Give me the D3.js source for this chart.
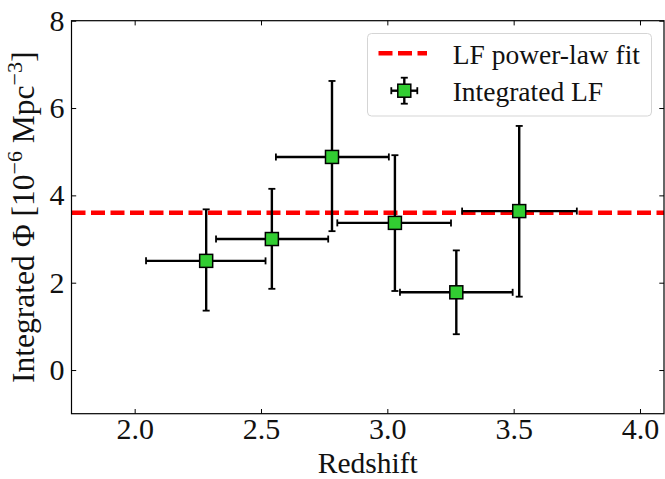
<!DOCTYPE html>
<html>
<head>
<meta charset="utf-8">
<script src="https://cdn.jsdelivr.net/npm/d3@7"></script>
<style>
  body { margin: 0; background: #fff; }
  svg text { font-family: "Liberation Serif", "DejaVu Serif", serif; fill: #111; }
</style>
</head>
<body>
<svg width="665" height="479"></svg>
<script>
// data
const redshift = [2.283, 2.543, 2.781, 3.030, 3.273, 3.522];
const xLow = [2.045, 2.322, 2.559, 2.802, 3.050, 3.296];
const xHigh = [2.518, 2.766, 3.006, 3.252, 3.496, 3.750];
const phi = [2.50, 3.00, 4.88, 3.37, 1.78, 3.64];
const phiLow = [1.36, 1.86, 3.18, 1.81, 0.82, 1.68];
const phiHigh = [3.68, 4.15, 6.62, 4.92, 2.74, 5.59];
const fitLevel = 3.6;
const xTicks = [2.0, 2.5, 3.0, 3.5, 4.0];
const yTicks = [0, 2, 4, 6, 8];

const svg = d3.select("svg");
const pLeft = 71.5, pRight = 664, pTop = 20.7, pBottom = 413.7;

const x = d3.scaleLinear().domain([1.75, 4.095]).range([pLeft, pRight]);
const y = d3.scaleLinear().domain([-1, 8]).range([pBottom, pTop]);

const clip = svg.append("defs").append("clipPath").attr("id", "plot-clip");
clip.append("rect").attr("x", pLeft).attr("y", pTop).attr("width", pRight - pLeft).attr("height", pBottom - pTop);

// fit line
svg.append("line")
  .attr("clip-path", "url(#plot-clip)")
  .attr("x1", pLeft).attr("x2", pRight)
  .attr("y1", y(fitLevel)).attr("y2", y(fitLevel))
  .attr("stroke", "#ff0000")
  .attr("stroke-width", 4.5)
  .attr("stroke-dasharray", "14,5.5");

// error bars
const pts = redshift.map((d, i) => ({x: d, x0: xLow[i], x1: xHigh[i], y: phi[i], y0: phiLow[i], y1: phiHigh[i]}));
const cap = 3.5;
const eb = svg.append("g").attr("stroke", "#000").attr("stroke-width", 2.4);
pts.forEach(p => {
  eb.append("line").attr("x1", x(p.x0)).attr("x2", x(p.x1)).attr("y1", y(p.y)).attr("y2", y(p.y));
  eb.append("line").attr("x1", x(p.x)).attr("x2", x(p.x)).attr("y1", y(p.y0)).attr("y2", y(p.y1));
  [p.x0, p.x1].forEach(v => eb.append("line").attr("stroke-width", 1.8)
    .attr("x1", x(v)).attr("x2", x(v)).attr("y1", y(p.y) - cap).attr("y2", y(p.y) + cap));
  [p.y0, p.y1].forEach(v => eb.append("line").attr("stroke-width", 1.8)
    .attr("x1", x(p.x) - cap).attr("x2", x(p.x) + cap).attr("y1", y(v)).attr("y2", y(v)));
});

// markers
const ms = 13;
svg.append("g").selectAll("rect")
  .data(pts)
  .join("rect")
  .attr("x", d => x(d.x) - ms / 2)
  .attr("y", d => y(d.y) - ms / 2)
  .attr("width", ms).attr("height", ms)
  .attr("fill", "#32cd32")
  .attr("stroke", "#000")
  .attr("stroke-width", 1.5);

// axes, ticks inward on all sides
const tl = 4.7;
const fmt = d3.format(".1f");
svg.append("g").attr("transform", `translate(0,${pBottom})`)
  .call(d3.axisBottom(x).tickValues(xTicks).tickSizeInner(-tl).tickSizeOuter(0).tickPadding(4).tickFormat(fmt));
svg.append("g").attr("transform", `translate(0,${pTop})`)
  .call(d3.axisTop(x).tickValues(xTicks).tickSizeInner(-tl).tickSizeOuter(0).tickFormat(""));
svg.append("g").attr("transform", `translate(${pLeft},0)`)
  .call(d3.axisLeft(y).tickValues(yTicks).tickSizeInner(-tl).tickSizeOuter(0).tickPadding(7).tickFormat(d3.format("d")));
svg.append("g").attr("transform", `translate(${pRight},0)`)
  .call(d3.axisRight(y).tickValues(yTicks).tickSizeInner(-tl).tickSizeOuter(0).tickFormat(""));
svg.selectAll(".domain").remove();
svg.selectAll(".tick line").attr("stroke", "#000").attr("stroke-width", 1);
svg.selectAll(".tick text").attr("font-size", 30).attr("font-family", "Liberation Serif").attr("fill", "#111");

svg.append("rect")
  .attr("x", pLeft).attr("y", pTop).attr("width", pRight - pLeft).attr("height", pBottom - pTop)
  .attr("fill", "none").attr("stroke", "#000").attr("stroke-width", 1.2);

// axis labels
svg.append("text")
  .attr("x", (pLeft + pRight) / 2).attr("y", 472.5)
  .attr("text-anchor", "middle").attr("font-size", 29.5)
  .text("Redshift");

const yl = svg.append("text")
  .attr("transform", `translate(34,${(pTop + pBottom) / 2}) rotate(-90)`)
  .attr("text-anchor", "middle").attr("font-size", 31.5);
yl.append("tspan").text("Integrated Φ [10");
yl.append("tspan").attr("font-size", 22).attr("dy", -12).text("−6");
yl.append("tspan").attr("dy", 12).text(" Mpc");
yl.append("tspan").attr("font-size", 22).attr("dy", -12).text("−3");
yl.append("tspan").attr("dy", 12).text("]");

// legend
const lg = svg.append("g");
lg.append("rect")
  .attr("x", 367.5).attr("y", 33.5).attr("width", 284).attr("height", 82.5)
  .attr("rx", 4).attr("fill", "#fff").attr("fill-opacity", 0.8)
  .attr("stroke", "#d5d5d5").attr("stroke-width", 1);
lg.append("line")
  .attr("x1", 378).attr("x2", 427).attr("y1", 53.3).attr("y2", 53.3)
  .attr("stroke", "#ff0000").attr("stroke-width", 4.5).attr("stroke-dasharray", "14,5.5").attr("stroke-dashoffset", -0.5);
const lx = 404.3, ly = 90.7;
const le = lg.append("g").attr("stroke", "#000").attr("stroke-width", 2.4);
le.append("line").attr("x1", lx - 13).attr("x2", lx + 13).attr("y1", ly).attr("y2", ly);
le.append("line").attr("x1", lx).attr("x2", lx).attr("y1", ly - 13).attr("y2", ly + 13);
[-13, 13].forEach(o => {
  le.append("line").attr("stroke-width", 1.8).attr("x1", lx + o).attr("x2", lx + o).attr("y1", ly - cap).attr("y2", ly + cap);
  le.append("line").attr("stroke-width", 1.8).attr("x1", lx - cap).attr("x2", lx + cap).attr("y1", ly + o).attr("y2", ly + o);
});
lg.append("rect")
  .attr("x", lx - ms / 2).attr("y", ly - ms / 2).attr("width", ms).attr("height", ms)
  .attr("fill", "#32cd32").attr("stroke", "#000").attr("stroke-width", 1.5);
lg.append("text").attr("x", 452.7).attr("y", 64).attr("font-size", 27.5).text("LF power-law fit");
lg.append("text").attr("x", 452.7).attr("y", 100.5).attr("font-size", 27.5).text("Integrated LF");
</script>
</body>
</html>
